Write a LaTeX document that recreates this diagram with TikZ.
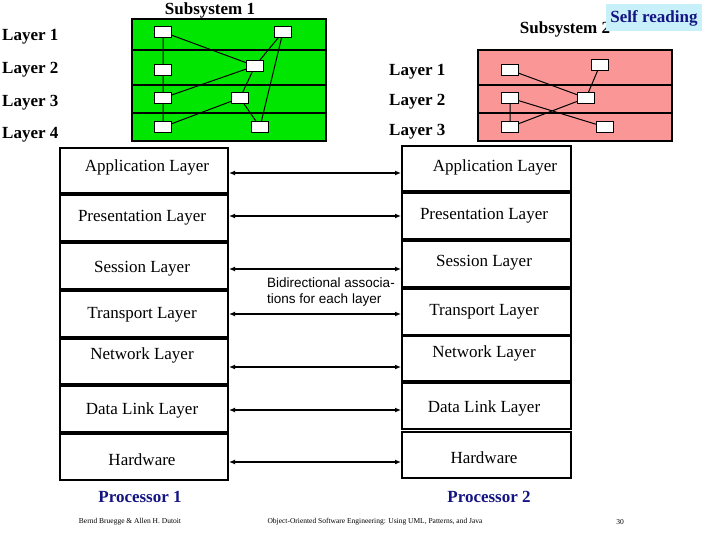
\documentclass[tikz,border=0pt]{standalone}
\usepackage{fontspec}
\setmainfont{Liberation Serif}
\setsansfont{Liberation Sans}
\usetikzlibrary{arrows.meta}
\definecolor{subgreen}{RGB}{0,230,0}
\definecolor{subpink}{RGB}{250,150,150}
\definecolor{selfcyan}{RGB}{200,240,250}
\definecolor{procblue}{RGB}{20,20,130}
\tikzset{
  comp/.style={draw,line width=1pt,fill=white,minimum width=17pt,minimum height=11pt,inner sep=0pt},
  lbl/.style={font=\bfseries\fontsize{17}{20}\selectfont,inner sep=0pt},
  lay/.style={font=\fontsize{17}{20}\selectfont,inner sep=0pt},
  link/.style={line width=1.8pt,{Latex[length=6pt,width=5pt]}-{Latex[length=6pt,width=5pt]}},
  wire/.style={line width=1pt}
}
\begin{document}
\begin{tikzpicture}[x=1pt,y=-1pt]
          \useasboundingbox (0,0) rectangle (720,540);
          % subsystem 1
          \fill[subgreen] (132,19) rectangle (326,141);
          \draw[line width=1.2pt] (132,19) rectangle (326,141);
          \foreach \y in {50,85,113} \draw[line width=1.2pt] (132,\y) -- (326,\y);
          \node[lbl] (s1) at (210,10) {Subsystem 1};
          \node[comp] (a1) at (163,32) {};
          \node[comp] (a2) at (283,32) {};
          \node[comp] (b1) at (163,70) {};
          \node[comp] (b2) at (255,66) {};
          \node[comp] (c1) at (163,98) {};
          \node[comp] (c2) at (240,98) {};
          \node[comp] (d1) at (163,127) {};
          \node[comp] (d2) at (260,127) {};
          \draw[wire] (a1) -- (b1) (a1) -- (b2) (a2) -- (b2) (a2) -- (d2)
            (b1) -- (c1) (b2) -- (c1) (b2) -- (c2) (c1) -- (d1) (c2) -- (d1) (c2) -- (d2);
          \foreach \n/\y in {1/37,2/70,3/103,4/135}
            \node[lbl,anchor=west] (l\n) at (2,\y) {Layer \n};
          % subsystem 2
          \fill[subpink] (478,50) rectangle (672,141);
          \draw[line width=1.2pt] (478,50) rectangle (672,141);
          \foreach \y in {85,113} \draw[line width=1.2pt] (478,\y) -- (672,\y);
          \node[lbl] (s2) at (565,29) {Subsystem 2};
          \node[comp] (p1) at (510,70) {};
          \node[comp] (p2) at (600,65) {};
          \node[comp] (q1) at (510,98) {};
          \node[comp] (q2) at (586,98) {};
          \node[comp] (r1) at (510,127) {};
          \node[comp] (r2) at (605,127) {};
          \draw[wire] (p1) -- (q2) (p2) -- (q2) (q1) -- (r1) (q1) -- (r2) (q2) -- (r1);
          \foreach \n/\y in {1/72,2/102,3/132}
            \node[lbl,anchor=west] (m\n) at (389,\y) {Layer \n};
          \node[lbl,fill=selfcyan,text=procblue,minimum width=96pt,minimum height=27pt] (self) at (654,18) {Self reading};
          % processor stacks
          \foreach \ya/\yb/\yc/\yd in {148/193/146/191,195/241/193/239,243/289/241/287,291/337/289/335,
              339/384/336/381,386/432/383/429,434/480/432/478} {
            \draw[line width=1.8pt] (60,\ya) rectangle (228,\yb);
            \draw[line width=1.8pt] (402,\yc) rectangle (571,\yd);
          }
          \node[lay] (x1) at (147,167) {Application Layer};
          \node[lay] (x2) at (142,218) {Presentation Layer};
          \node[lay] (x3) at (142,269) {Session Layer};
          \node[lay] (x4) at (142,315) {Transport Layer};
          \node[lay] (x5) at (142,355) {Network Layer};
          \node[lay] (x6) at (142,410) {Data Link Layer};
          \node[lay] (x7) at (142,460) {Hardware};
          \node[lay] (y1) at (495,167) {Application Layer};
          \node[lay] (y2) at (484,216) {Presentation Layer};
          \node[lay] (y3) at (484,263) {Session Layer};
          \node[lay] (y4) at (484,312) {Transport Layer};
          \node[lay] (y5) at (484,353) {Network Layer};
          \node[lay] (y6) at (484,408) {Data Link Layer};
          \node[lay] (y7) at (484,458) {Hardware};
          \foreach \y in {173,216,269,314,367,410,462} {
            \coordinate (la) at (229,\y);
            \coordinate (lb) at (401,\y);
            \draw[link] (la) -- (lb);
          }
          \node[font=\sffamily\fontsize{13.5}{16}\selectfont,align=left,inner sep=0pt] (bidi) at (331,292) {Bidirectional associa-\\tions for each layer};
          \node[lbl,text=procblue] (pr1) at (140,497) {Processor 1};
          \node[lbl,text=procblue] (pr2) at (489,497) {Processor 2};
          % footer
          \node[font=\fontsize{7.5}{9}\selectfont,inner sep=0pt] (f1) at (130,522) {Bernd Bruegge \& Allen H. Dutoit};
          \node[font=\fontsize{7.5}{9}\selectfont,inner sep=0pt] (f2) at (375,522) {Object-Oriented Software Engineering: Using UML, Patterns, and Java};
          \node[font=\fontsize{7.5}{9}\selectfont,inner sep=0pt] (f3) at (620,522) {30};
        \end{tikzpicture}
\end{document}
